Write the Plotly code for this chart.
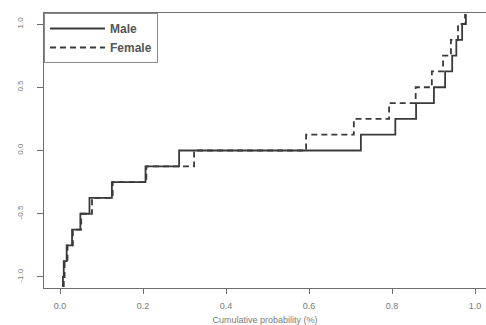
import plotly.graph_objects as go

# Step levels (value axis) passed through, from bottom edge to top edge
levels = [-1.08, -1.0, -0.875, -0.75, -0.625, -0.5, -0.375, -0.25, -0.125,
          0.0, 0.125, 0.25, 0.375, 0.5, 0.625, 0.75, 0.875, 1.0, 1.08]

# Cumulative probability at which each jump happens (jump from levels[i] to levels[i+1])
male_jumps = [0.007, 0.009, 0.016, 0.029, 0.049, 0.071, 0.125, 0.206, 0.287,
              0.725, 0.808, 0.858, 0.901, 0.928, 0.945, 0.955, 0.969, 0.978]
female_jumps = [0.009, 0.011, 0.018, 0.031, 0.051, 0.077, 0.127, 0.208, 0.323,
                0.593, 0.708, 0.793, 0.857, 0.896, 0.923, 0.942, 0.959, 0.976]

x_ticks = [0.0, 0.2, 0.4, 0.6, 0.8, 1.0]
x_tick_labels = ["0.0", "0.2", "0.4", "0.6", "0.8", "1.0"]
y_ticks = [-1.0, -0.5, 0.0, 0.5, 1.0]
y_tick_labels = ["-1.0", "-0.5", "0.0", "0.5", "1.0"]


def step_xy(jumps, lv):
    # 'vh' shape: vertical at x_i from y_i to y_{i+1}, then horizontal
    xs = list(jumps) + [jumps[-1]]
    ys = list(lv)
    return xs, ys


mx, my = step_xy(male_jumps, levels)
fx, fy = step_xy(female_jumps, levels)

line_col = "#3a3a3a"
axis_col = "#6e6e6e"
text_col = "#7a7a7a"

fig = go.Figure()
fig.add_trace(go.Scatter(x=mx, y=my, mode="lines", name="Male",
                         line=dict(shape="vh", color=line_col, width=1.8)))
fig.add_trace(go.Scatter(x=fx, y=fy, mode="lines", name="Female",
                         line=dict(shape="vh", color=line_col, width=1.8, dash="6px,4px")))

fig.update_layout(
    width=486, height=325,
    margin=dict(l=44, r=0, t=13, b=37),
    paper_bgcolor="white", plot_bgcolor="white",
    font=dict(family="Liberation Sans, Arial, sans-serif", color=text_col),
    showlegend=True,
    legend=dict(x=0, y=1, xanchor="left", yanchor="top",
                bgcolor="white", bordercolor="#8a8a8a", borderwidth=1,
                font=dict(size=12, color="#555555", weight="bold",
                          family="Liberation Sans, Arial, sans-serif"),
                itemwidth=55, tracegroupgap=0),
)

fig.update_xaxes(
    range=[-0.0386, 1.0265], tickmode="array", tickvals=x_ticks, ticktext=x_tick_labels,
    showgrid=False, zeroline=False, showline=True, linecolor=axis_col, linewidth=1,
    mirror=True, ticks="outside", ticklen=5, tickcolor=axis_col, automargin=False,
    tickfont=dict(size=9, color=text_col), ticklabelstandoff=4,
    title=dict(text="Cumulative probability (%)", font=dict(size=9, color=text_col), standoff=12),
)
fig.update_yaxes(
    range=[-1.087, 1.087], tickmode="array", tickvals=y_ticks, ticktext=y_tick_labels,
    showgrid=False, zeroline=False, showline=True, linecolor=axis_col, linewidth=1,
    ticks="outside", ticklen=6, tickcolor=axis_col, tickangle=-90, automargin=False,
    tickfont=dict(size=8, color=text_col), ticklabelstandoff=11,
)

fig.write_html("out.html", config={"displayModeBar": False},
               post_script="document.body.style.margin='0px';document.body.style.overflow='hidden';")
